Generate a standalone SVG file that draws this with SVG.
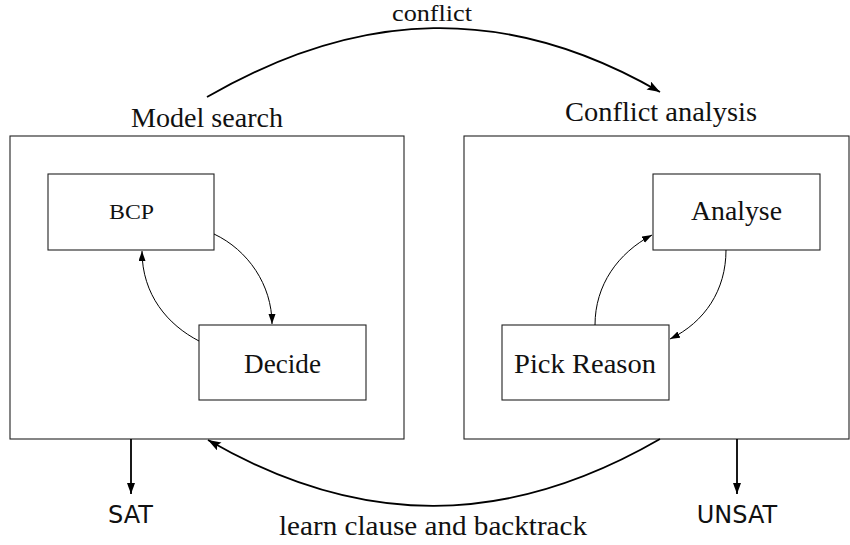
<svg xmlns="http://www.w3.org/2000/svg" width="850" height="545" viewBox="0 0 850 545">
<style>
.box{fill:none;stroke:#222;stroke-width:1.1}
.lbl{font-family:"Liberation Serif","DejaVu Serif",serif;font-size:28px;fill:#111;text-anchor:middle}
.sans{font-family:"DejaVu Sans","Liberation Sans",sans-serif;font-size:24px;fill:#111;text-anchor:middle}
.thick{fill:none;stroke:#000;stroke-width:1.8}
.thin{fill:none;stroke:#000;stroke-width:1}
</style>
<defs>
<marker id="big" markerUnits="userSpaceOnUse" markerWidth="14" markerHeight="10" refX="13" refY="4.5" orient="auto">
<path d="M0,0 L13,4.5 L0,9 L2.5,4.5 z" fill="#000"/>
</marker>
<marker id="mid" markerUnits="userSpaceOnUse" markerWidth="12" markerHeight="9" refX="11" refY="4" orient="auto">
<path d="M0,0 L11,4 L0,8 z" fill="#000"/>
</marker>
<marker id="small" markerUnits="userSpaceOnUse" markerWidth="11" markerHeight="8" refX="10" refY="3.5" orient="auto">
<path d="M0,0 L10,3.5 L0,7 z" fill="#000"/>
</marker>
</defs>
<g id="model-search">
<rect class="box" x="10" y="136" width="394" height="303"/>
<text class="lbl" x="207" y="127" textLength="152" lengthAdjust="spacingAndGlyphs">Model search</text>
</g>
<g id="conflict-analysis">
<rect class="box" x="464" y="136" width="385" height="303"/>
<text class="lbl" x="661" y="121" textLength="192" lengthAdjust="spacingAndGlyphs">Conflict analysis</text>
</g>
<g id="bcp">
<rect class="box" x="48" y="174" width="166" height="76"/>
<text class="lbl" x="131.5" y="219" style="font-size:21px" textLength="45" lengthAdjust="spacingAndGlyphs">BCP</text>
</g>
<g id="decide">
<rect class="box" x="199" y="325" width="167" height="75"/>
<text class="lbl" x="282.5" y="373" textLength="77" lengthAdjust="spacingAndGlyphs">Decide</text>
</g>
<g id="analyse">
<rect class="box" x="653" y="174" width="167" height="76"/>
<text class="lbl" x="736.5" y="220" textLength="91" lengthAdjust="spacingAndGlyphs">Analyse</text>
</g>
<g id="pick-reason">
<rect class="box" x="502" y="325" width="167" height="75"/>
<text class="lbl" x="585" y="373" textLength="142" lengthAdjust="spacingAndGlyphs">Pick Reason</text>
</g>
<g id="sat">
<text class="sans" x="130.5" y="523">SAT</text>
</g>
<g id="unsat">
<text class="sans" x="737" y="523">UNSAT</text>
</g>
<g id="connectors">
<path class="thick" d="M207,97 C360,8.5 507,3.5 660,92" marker-end="url(#big)"/>
<text class="lbl" x="432" y="21" style="font-size:23px" textLength="80" lengthAdjust="spacingAndGlyphs">conflict</text>
<path class="thick" d="M660,439 C507,527.5 361,528.5 208,440" marker-end="url(#big)"/>
<text class="lbl" x="433" y="535" textLength="308" lengthAdjust="spacingAndGlyphs">learn clause and backtrack</text>
<path class="thick" d="M131,439 L131,494" marker-end="url(#mid)"/>
<path class="thick" d="M737,439 L737,494" marker-end="url(#mid)"/>
<path class="thin" d="M214,234 C248,250 272,285 272,324" marker-end="url(#small)"/>
<path class="thin" d="M199,341 C168,325 142,295 142,251" marker-end="url(#small)"/>
<path class="thin" d="M595,325 C595,285 618,253 652,235" marker-end="url(#small)"/>
<path class="thin" d="M726,250 C726,290 705,322 670,339" marker-end="url(#small)"/>
</g>
</svg>
